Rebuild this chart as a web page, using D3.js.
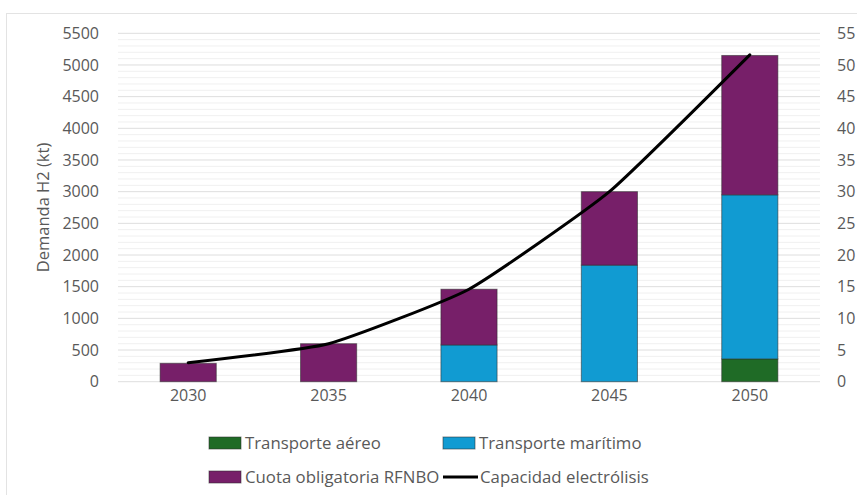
<!DOCTYPE html>
<html><head><meta charset="utf-8">
<script src="https://cdn.jsdelivr.net/npm/d3@7"></script>
<style>
body{margin:0;background:#fff;}
svg{display:block;font-family:"Open Sans","Noto Sans",sans-serif;}
</style></head>
<body>
<svg id="chart" width="857" height="495"></svg>
<script>
const years = ["2030","2035","2040","2045","2050"];
const aereo = [0,0,0,0,360];
const maritimo = [0,0,580,1840,2590];
const cuota = [290,600,880,1160,2200];
const capacidad = [3,6,14.6,30,51.6];
const leftTicks = [0,500,1000,1500,2000,2500,3000,3500,4000,4500,5000,5500];
const rightTicks = [0,5,10,15,20,25,30,35,40,45,50,55];
const seriesNames = ["Transporte aéreo","Transporte marítimo","Cuota obligatoria RFNBO"];
const seriesColors = ["#1f6b26","#119bd2","#771f69"];
const lineName = "Capacidad electrólisis";

const svg = d3.select("#chart");
const W=857,H=495;
svg.append("rect").attr("x",6.5).attr("y",13.5).attr("width",W).attr("height",H).attr("fill","none").attr("stroke","#e3e3e3");

const m = {left:118,right:820,top:33.3,bottom:381.7};
const x = d3.scaleBand().domain(years).range([m.left,m.right]).paddingInner(0.6).paddingOuter(0.3);
const y = d3.scaleLinear().domain([0,5500]).range([m.bottom,m.top]);
const y2 = d3.scaleLinear().domain([0,55]).range([m.bottom,m.top]);

const minor = d3.range(0,5501,100).filter(v=>v%500!==0);
svg.append("g").selectAll("line").data(minor).join("line")
  .attr("x1",m.left).attr("x2",m.right).attr("y1",d=>y(d)).attr("y2",d=>y(d))
  .attr("stroke","#f0f0f0").attr("stroke-width",1);
svg.append("g").selectAll("line").data(leftTicks).join("line")
  .attr("x1",m.left).attr("x2",m.right).attr("y1",d=>y(d)).attr("y2",d=>y(d))
  .attr("stroke","#dedede").attr("stroke-width",1);

const data = years.map((yr,i)=>({year:yr, a:aereo[i], b:maritimo[i], c:cuota[i]}));
const stack = d3.stack().keys(["a","b","c"])(data);
stack.forEach((s,k)=>{
  svg.append("g").selectAll("rect").data(s.filter(d=>d[1]-d[0]>0)).join("rect")
    .attr("x",d=>x(d.data.year)).attr("width",x.bandwidth())
    .attr("y",d=>y(d[1])).attr("height",d=>y(d[0])-y(d[1]))
    .attr("fill",seriesColors[k]).attr("stroke","#2b2b2b").attr("stroke-opacity",0.55).attr("stroke-width",1);
});

const line = d3.line().x((d,i)=>x(years[i])+x.bandwidth()/2).y(d=>y2(d)).curve(d3.curveCardinal.tension(0.55));
svg.append("path").datum(capacidad).attr("d",line).attr("fill","none").attr("stroke","#000").attr("stroke-width",3).attr("stroke-linecap","round");

const tickColor="#595959";
const ff="'Open Sans','Noto Sans',sans-serif";
const yAxis = d3.axisLeft(y).tickValues(leftTicks).tickFormat(d3.format("d")).tickSize(0).tickPadding(0);
svg.append("g").attr("transform",`translate(${99},0)`).call(yAxis)
  .call(g=>g.select(".domain").remove())
  .selectAll("text").attr("fill",tickColor).attr("font-size",16).attr("font-family",ff);
const yAxis2 = d3.axisRight(y2).tickValues(rightTicks).tickFormat(d3.format("d")).tickSize(0).tickPadding(0);
svg.append("g").attr("transform",`translate(${837},0)`).call(yAxis2)
  .call(g=>g.select(".domain").remove())
  .selectAll("text").attr("fill",tickColor).attr("font-size",16).attr("font-family",ff);
const xAxis = d3.axisBottom(x).tickSize(0).tickPadding(0);
svg.append("g").attr("transform",`translate(0,${m.bottom+8})`).call(xAxis)
  .call(g=>g.select(".domain").remove())
  .selectAll("text").attr("fill",tickColor).attr("font-size",16).attr("dy","0.71em").attr("font-family",ff);

svg.append("text").attr("transform",`translate(49,${(m.top+m.bottom)/2}) rotate(-90)`)
  .attr("text-anchor","middle").attr("fill",tickColor).attr("font-size",16.5).text("Demanda H2 (kt)");

const leg = [
  {name:seriesNames[0],color:seriesColors[0],type:"rect",x:209,y:443},
  {name:seriesNames[1],color:seriesColors[1],type:"rect",x:443,y:443},
  {name:seriesNames[2],color:seriesColors[2],type:"rect",x:209,y:477},
  {name:lineName,color:"#000",type:"line",x:443,y:477}
];
const lg = svg.append("g").selectAll("g").data(leg).join("g").attr("transform",d=>`translate(${d.x},${d.y})`);
lg.filter(d=>d.type==="rect").append("rect").attr("x",0).attr("y",-6).attr("width",32).attr("height",12)
  .attr("fill",d=>d.color).attr("stroke","#2b2b2b").attr("stroke-opacity",0.55);
lg.filter(d=>d.type==="line").append("line").attr("x1",0).attr("x2",35).attr("y1",0).attr("y2",0)
  .attr("stroke","#000").attr("stroke-width",3);
lg.append("text").attr("x",d=>d.type==="line"?37:36).attr("y",0).attr("dy","0.35em")
  .attr("fill",tickColor).attr("font-size",16.8).text(d=>d.name);
</script>
</body></html>
